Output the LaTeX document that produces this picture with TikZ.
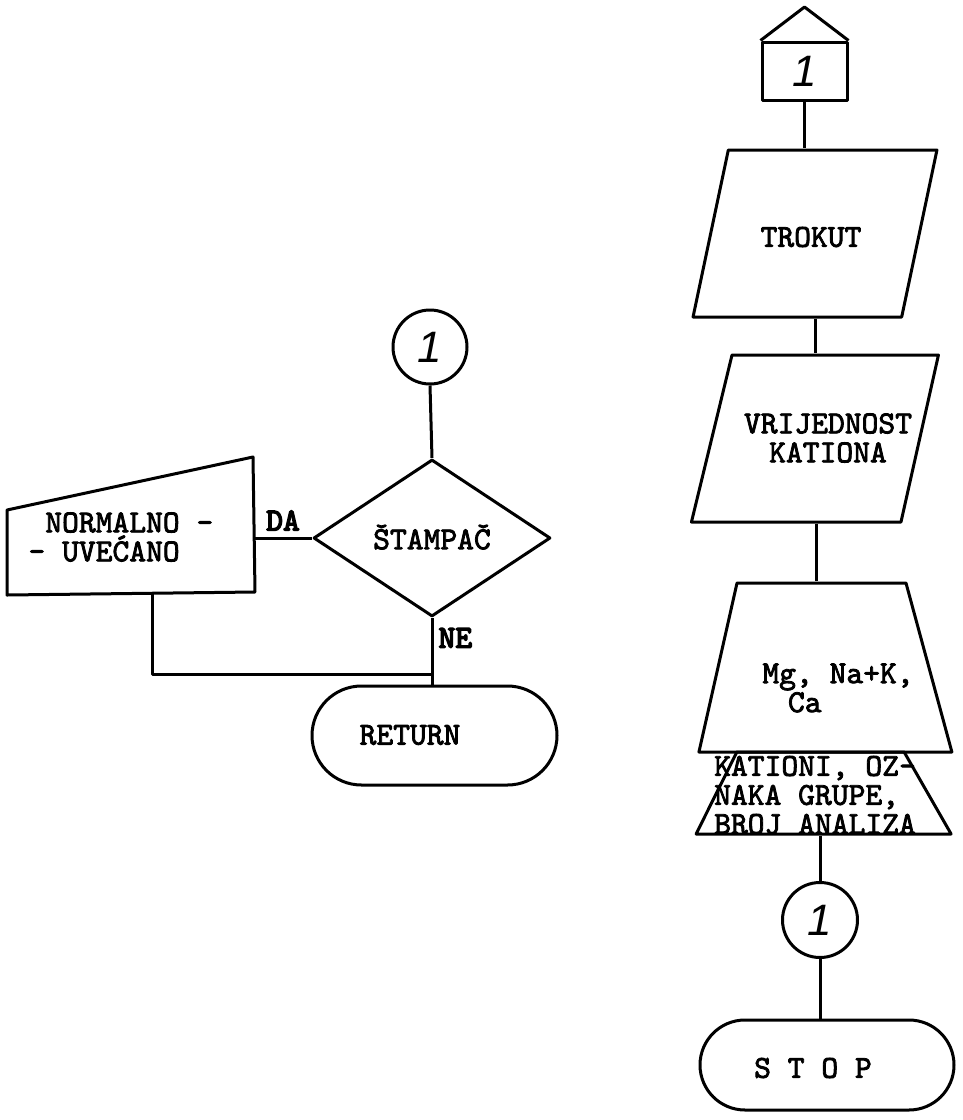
\documentclass[tikz,border=0pt]{standalone}
\usepackage{fontspec}
\newfontfamily\handfont{Liberation Sans}
\newfontfamily\typew{lmmono10-regular.otf}[FakeBold=2.5]
\newfontfamily\typewb{lmmono10-regular.otf}[FakeBold=4.5]
\usetikzlibrary{shapes.geometric,shapes.misc}

\begin{document}
\begin{tikzpicture}[
  x=1pt, y=-1pt,
  line width=3pt, line join=round,
  every node/.style={font=\typew\fontsize{32}{29}\selectfont, inner sep=0pt},
  num/.style={font=\handfont\itshape\fontsize{44}{44}\selectfont},
  lbl/.style={font=\typewb\fontsize{32}{29}\selectfont},
  para/.style={draw, trapezium, trapezium stretches=true, inner sep=3pt},
  decision/.style={draw, diamond, inner sep=3pt},
  term/.style={draw, rounded rectangle, inner sep=3pt},
  conn/.style={draw, circle, num, minimum size=75pt}
]
  \useasboundingbox (0,0) rectangle (962,1120);

  % right column
  \node[draw, num, minimum width=85pt, minimum height=58pt] (off) at (804.5,71) {1};
  \draw (off.north west) -- (804.5,7) -- (off.north east);
  \node[para, trapezium left angle=78.5, trapezium right angle=101.5,
    minimum width=244pt, minimum height=167pt] (trokut) at (815,233.5) {};
  \node (trokuttxt) at (811,237) {TROKUT};
  \node[para, trapezium left angle=76.5, trapezium right angle=102.5,
    minimum width=247pt, minimum height=167pt] (vrij) at (816.5,438.5) {};
  \node[align=center] (vrijtxt) at (828,438) {VRIJEDNOST\\KATIONA};
  \node[para, trapezium left angle=77.3, trapezium right angle=74.8,
    minimum width=253pt, minimum height=169pt] (mg) at (821.5,667.5) {};
  \node[align=left] (mgtxt) at (838,688) {Mg, Na+K,\\\hspace*{.8em}Ca};
  \node[para, trapezium left angle=76.3, trapezium right angle=74.3,
    minimum width=255pt, minimum height=82pt] (kat) at (820.5,793) {};
  \node[align=left] (kattxt) at (815,795) {KATIONI, OZ-\\NAKA GRUPE,\\BROJ ANALIZA};
  \node[conn] (conb) at (820,920) {1};
  \node[term, minimum width=260pt, minimum height=90pt] (stop) at (827,1065) {};
  \node (stoptxt) at (813,1068) {S T O P};

  \draw (off.south) -- (off.south |- trokut.north);
  \draw (trokut.south -| trokut.center) -- (trokut.center |- vrij.north);
  \draw (vrij.south -| vrij.center) -- (vrij.center |- mg.north);
  \draw (kat.south -| kat.center) -- (kat.center |- conb.north);
  \draw (conb.south) -- (conb.south |- stop.north);

  % left part
  \node[conn, minimum size=74pt] (cona) at (430,347) {1};
  \node[decision, minimum width=237pt, minimum height=157pt] (stampac) at (432,538) {};
  \node (stampactxt) at (432,537) {ŠTAMPAČ};
  \node[term, minimum width=251pt, minimum height=99pt] (ret) at (434.5,735.5) {};
  \node (rettxt) at (410,735) {RETURN};

  \draw (7,510) -- (253,457) -- (255,592) -- (7,595) -- cycle;
  \node[anchor=west, align=left] (normtxt) at (27,537) {\hspace*{.525em}NORMALNO -\\- UVEĆANO};
  \coordinate (normout) at (254,538);
  \coordinate (normbot) at (152,593);
  \coordinate (merge) at (stampac.south |- 0,674);

  \draw (cona.south) -- (stampac.north);
  \draw (stampac.west) -- node[above=6pt, lbl] (da) {DA} (normout);
  \draw (stampac.south) -- node[pos=.3, right=5pt, lbl] (ne) {NE} (stampac.south |- ret.north);
  \draw (normbot) |- (merge);
\end{tikzpicture}
\end{document}
